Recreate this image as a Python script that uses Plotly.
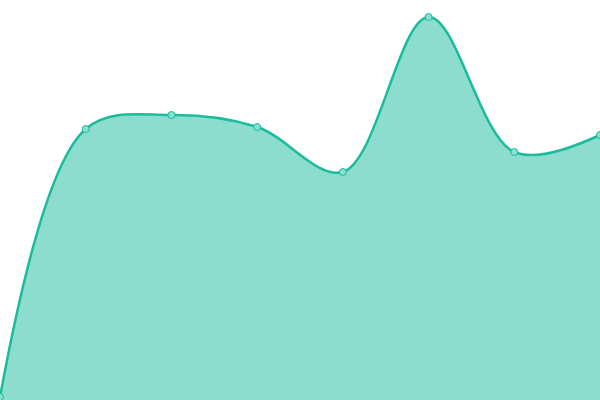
import plotly.graph_objects as go

# point index and values (pixels from the bottom)
x_pos = [0, 1, 2, 3, 4, 5, 6, 7]
values = [3, 271, 285, 273, 228, 383, 248, 265]

line_color = '#1abc9c'

fig = go.Figure()

fig.add_trace(go.Scatter(
    x=x_pos,
    y=values,
    mode='lines+markers',
    line=dict(color=line_color, width=2.5, shape='spline', smoothing=1),
    marker=dict(size=7, color='#8ae0cf', line=dict(color=line_color, width=1)),
    fill='tozeroy',
    fillcolor='rgba(26,188,156,0.5)',
    showlegend=False,
))

fig.update_layout(
    width=600,
    height=400,
    margin=dict(l=0, r=0, t=0, b=0),
    paper_bgcolor='white',
    plot_bgcolor='white',
    xaxis=dict(range=[0, 7], visible=False, fixedrange=True),
    yaxis=dict(range=[0, 400], visible=False, fixedrange=True),
)

# drop the browser's default body margin so the chart fills the window
fig.write_html("out.html",
               config={'displayModeBar': False},
               post_script="document.body.style.margin='0';")
